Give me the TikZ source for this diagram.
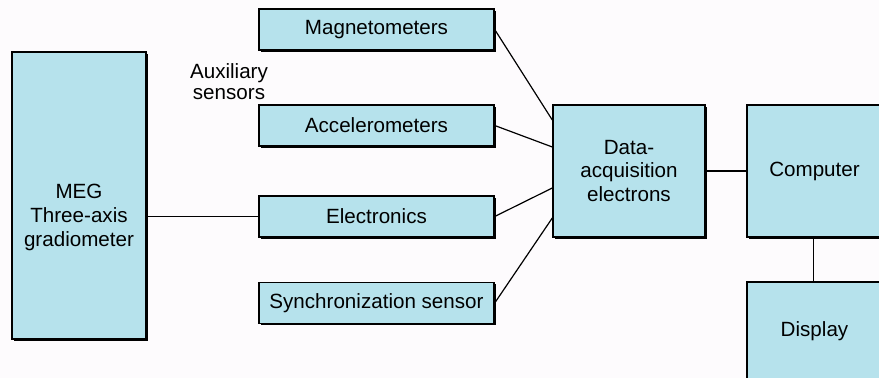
\documentclass[tikz,border=0pt]{standalone}
\usepackage{fontspec}
\setmainfont{Liberation Sans}
\usetikzlibrary{shadows}
\definecolor{boxblue}{RGB}{182,226,236}
\definecolor{paper}{RGB}{253,251,253}
\begin{document}
\begin{tikzpicture}[x=0.5pt, y=-0.5pt,
    every node/.style={font=\fontsize{10.3}{11.8}\selectfont},
    unit/.style={draw, line width=0.7pt, fill=boxblue, align=center, inner sep=2pt,
        drop shadow={opacity=1, fill=black, shadow xshift=0.9pt, shadow yshift=-0.9pt}},
    sensor/.style={unit, minimum width=117.5pt, minimum height=20.5pt},
    block/.style={unit, minimum width=76pt, minimum height=66pt},
    wire/.style={line width=0.6pt}]
    \fill[paper] (0,0) rectangle (879,378);
    \useasboundingbox (0,0) rectangle (879,378);
    \node[unit, minimum width=67pt, minimum height=143.5pt] (meg) at (79,195.5) {};
    \node[align=center] (megtext) at ([yshift=-11pt]meg.center) {MEG\\Three-axis\\gradiometer};
    \node[sensor] (mag) at (376.5,29.5) {Magnetometers};
    \node[sensor] (acc) at (376.5,125.5) {Accelerometers};
    \node[sensor] (elec) at (376.5,216.5) {Electronics};
    \node[sensor] (sync) at (376.5,303) {Synchronization sensor};
    \node[align=center, font=\fontsize{10.3}{10.5}\selectfont] (aux) at (229,82) {Auxiliary\\sensors};
    \node[block] (daq) at (629,171) {Data-\\acquisition\\electrons};
    \node[block, minimum width=67.5pt] (comp) at (814.5,171) {Computer};
    \node[block, minimum width=67.5pt, minimum height=49pt] (disp) at (814.5,331) {Display};
    \draw[wire] (mag.east) -- ([yshift=25.5pt]daq.west);
    \draw[wire] (acc.east) -- ([yshift=12pt]daq.west);
    \draw[wire] (elec.east) -- ([yshift=-8.5pt]daq.west);
    \draw[wire] (sync.east) -- ([yshift=-23.5pt]daq.west);
    \draw[wire] (meg.east |- elec.west) -- (elec.west);
    \draw[wire] (daq.east) -- (comp.west);
    \draw[wire] ([xshift=-0.5pt]comp.south) -- ([xshift=-0.5pt]disp.north);
\end{tikzpicture}
\end{document}
